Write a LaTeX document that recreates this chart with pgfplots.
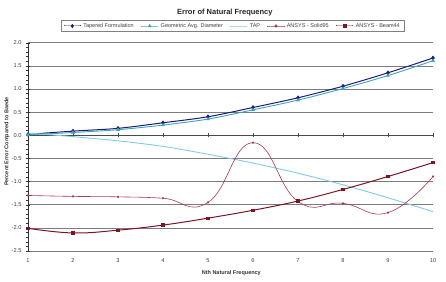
\documentclass[border=0pt]{standalone}
\usepackage{fontspec}
\setmainfont{Liberation Sans}
\usepackage{pgfplots}
\pgfplotsset{compat=1.18}

\definecolor{tapered}{HTML}{1C1C78}
\definecolor{geoavg}{HTML}{3FA6B8}
\definecolor{tap}{HTML}{80CBEA}
\definecolor{solidnf}{HTML}{A33A55}
\definecolor{beam}{HTML}{7E1424}
\definecolor{gridgray}{HTML}{7C7C7C}

% percent error of the first ten natural frequencies
\pgfplotstableread{
n  tapered  geoavg  tap    solid  beam
1  0.02     0.01    0.05  -1.30  -2.01
2  0.09     0.06   -0.03  -1.32  -2.11
3  0.15     0.12   -0.12  -1.33  -2.05
4  0.27     0.22   -0.24  -1.36  -1.94
5  0.40     0.35   -0.41  -1.45  -1.79
6  0.60     0.55   -0.60  -0.16  -1.62
7  0.81     0.76   -0.82  -1.43  -1.42
8  1.06     1.01   -1.07  -1.47  -1.17
9  1.35     1.29   -1.35  -1.67  -0.89
10 1.67     1.61   -1.65  -0.89  -0.59
}\freqerr

\begin{document}
\begin{tikzpicture}
\useasboundingbox (0pt,0pt) rectangle (446pt,281pt);
\begin{axis}[
  at={(28pt,30pt)}, anchor=south west,
  width=405pt, height=208.3pt, scale only axis,
  xmin=1, xmax=10, ymin=-2.5, ymax=2,
  axis x line*=bottom, axis y line*=left,
  x axis line style={draw=none},
  y axis line style={black!80, line width=0.5pt},
  xtick={1,...,10},
  xtick style={draw=none},
  ytick={-2.5,-2,...,2},
  minor y tick num=4,
  tick align=center,
  ytick style={black!80, line width=0.4pt},
  major tick length=4pt, minor tick length=3pt,
  ymajorgrids,
  major grid style={gridgray, line width=0.6pt},
  /pgf/number format/assume math mode=true,
  tick label style={font=\fontsize{5.7}{6}\selectfont, text=black!75},
  yticklabel style={/pgf/number format/fixed, /pgf/number format/precision=1,
                    /pgf/number format/fixed zerofill, xshift=-1pt},
  xticklabel style={yshift=-2pt},
  clip=false,
  legend columns=5,
  legend style={at={(0.0815,1.109)}, anchor=north west, draw=gray,
    line width=0.5pt, inner xsep=2pt, inner ysep=1pt,
    font=\fontsize{5.5}{6}\selectfont, text=black!75,
    /tikz/every even column/.append style={column sep=5pt}},
  legend image post style={mark size=1.3pt},
]
% zero line with category ticks
\draw[gridgray!60!black, line width=0.6pt] (axis cs:1,0) -- (axis cs:10,0);
\pgfplotsinvokeforeach{2,...,10}{
  \draw[gridgray!60!black, line width=0.5pt]
    (axis cs:#1,0) ++(0pt,-2pt) -- ++(0pt,4pt);
}

\addplot[tapered, line width=1pt, smooth, mark=diamond*, mark size=1.6pt]
  table[x=n, y=tapered] {\freqerr};
\addlegendentry{Tapered Formulation}
\addplot[geoavg, line width=0.9pt, smooth, mark=triangle*, mark size=1.4pt]
  table[x=n, y=geoavg] {\freqerr};
\addlegendentry{Geometric Avg. Diameter}
\addplot[tap, line width=0.9pt, smooth]
  table[x=n, y=tap] {\freqerr};
\addlegendentry{TAP}
\addplot[solidnf, line width=0.6pt, smooth, tension=0.8, mark=*, mark size=0.8pt]
  table[x=n, y=solid] {\freqerr};
\addlegendentry{ANSYS - Solid95}
\addplot[beam, line width=1pt, smooth, tension=0.7, mark=square*, mark size=1.1pt]
  table[x=n, y=beam] {\freqerr};
\addlegendentry{ANSYS - Beam44}

\node[font=\bfseries\fontsize{7.5}{9}\selectfont, text=black!85]
  at (axis description cs:0.486,1.143) {Error of Natural Frequency};
\node[font=\bfseries\fontsize{5.5}{6}\selectfont, text=black!80]
  at (axis description cs:0.502,-0.104) {Nth Natural Frequency};
\node[font=\bfseries\fontsize{5.5}{6}\selectfont, text=black!80, rotate=90]
  at (axis description cs:-0.052,0.525) {Percent Error Compared to Baede};
\end{axis}
\end{tikzpicture}
\end{document}
